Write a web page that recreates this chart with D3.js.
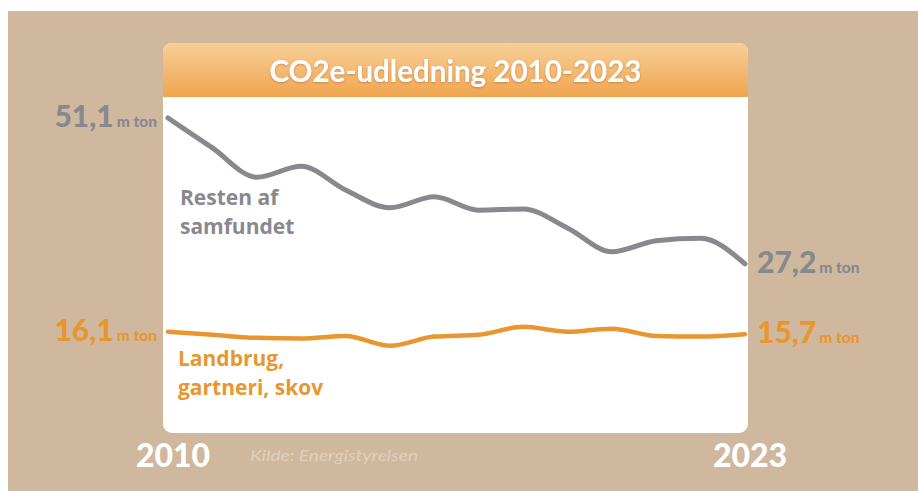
<!DOCTYPE html>
<html>
<head>
<meta charset="utf-8">
<script src="https://cdn.jsdelivr.net/npm/d3@7"></script>
<style>
  html, body { margin: 0; padding: 0; background: #fff; }
  #chart { width: 918px; height: 491px; }
  text { font-family: Lato, "Open Sans", sans-serif; }
</style>
</head>
<body>
<div id="chart"></div>
<script>
// data (million tons CO2e)
var years = [2010, 2011, 2012, 2013, 2014, 2015, 2016, 2017, 2018, 2019, 2020, 2021, 2022, 2023];
var resten = [51.1, 46.2, 41.4, 43.2, 39.3, 36.4, 38.2, 36.0, 36.2, 33.1, 29.2, 31.0, 31.4, 27.2];
var landbrug = [16.1, 15.6, 15.1, 15.0, 15.4, 13.8, 15.3, 15.6, 16.9, 16.1, 16.6, 15.4, 15.3, 15.7];
var startLabels = ["51,1", "16,1"];
var endLabels = ["27,2", "15,7"];
var seriesNames = [["Resten af", "samfundet"], ["Landbrug,", "gartneri, skov"]];
var title = "CO2e-udledning 2010-2023";
var source = "Kilde: Energistyrelsen";

var colors = { grey: "#88888f", orange: "#e8962f", tan: "#cfb89d" };

var W = 918, H = 491;
var svg = d3.select("#chart").append("svg")
  .attr("width", W).attr("height", H);

// background
svg.append("rect").attr("x", 8).attr("y", 11)
  .attr("width", W - 8).attr("height", H - 11)
  .attr("fill", colors.tan);

// card
var card = { x: 163, y: 43, w: 585, h: 390, r: 9, head: 54 };

var defs = svg.append("defs");
var grad = defs.append("linearGradient").attr("id", "head")
  .attr("x1", 0).attr("y1", 0).attr("x2", 0).attr("y2", 1);
grad.append("stop").attr("offset", "0%").attr("stop-color", "#f8cf98");
grad.append("stop").attr("offset", "100%").attr("stop-color", "#f0a54f");

var sh = defs.append("filter").attr("id", "ts")
  .attr("x", "-10%").attr("y", "-30%").attr("width", "120%").attr("height", "160%");
sh.append("feDropShadow").attr("dx", 0).attr("dy", 1).attr("stdDeviation", 1.2)
  .attr("flood-color", "#a0602a").attr("flood-opacity", 0.5);

svg.append("rect").attr("x", card.x).attr("y", card.y)
  .attr("width", card.w).attr("height", card.h).attr("rx", card.r)
  .attr("fill", "#fff");
// header with rounded top only
svg.append("path")
  .attr("d", "M" + card.x + "," + (card.y + card.head) +
    "V" + (card.y + card.r) +
    "Q" + card.x + "," + card.y + " " + (card.x + card.r) + "," + card.y +
    "H" + (card.x + card.w - card.r) +
    "Q" + (card.x + card.w) + "," + card.y + " " + (card.x + card.w) + "," + (card.y + card.r) +
    "V" + (card.y + card.head) + "Z")
  .attr("fill", "url(#head)");

var t = svg.append("text")
  .attr("x", card.x + card.w / 2).attr("y", 82)
  .attr("text-anchor", "middle")
  .attr("fill", "#fff").attr("font-weight", "bold")
  .attr("font-size", 27)
  .attr("filter", "url(#ts)")
  .text(title);
// fit title to reference width
var tw = t.node().getComputedTextLength();
t.attr("font-size", 27 * 372 / tw);

// scales
var x = d3.scalePoint().domain(years).range([168, 745]);
var y = d3.scaleLinear().domain([0, 51.1]).range([430, 118]);

var line = d3.line()
  .x(function(d, i) { return x(years[i]); })
  .y(function(d) { return y(d); })
  .curve(d3.curveMonotoneX);

svg.append("path").datum(resten)
  .attr("d", line).attr("fill", "none")
  .attr("stroke", colors.grey).attr("stroke-width", 5)
  .attr("stroke-linecap", "round");

svg.append("path").datum(landbrug)
  .attr("d", line).attr("fill", "none")
  .attr("stroke", colors.orange).attr("stroke-width", 4.5)
  .attr("stroke-linecap", "round");

// value labels
var series = [resten, landbrug];
var seriesColors = [colors.grey, colors.orange];

var addValue = function(xp, yp, num, col, anchor) {
  var tx = svg.append("text")
    .attr("x", xp).attr("y", yp + 9)
    .attr("text-anchor", anchor)
    .attr("fill", col).attr("font-weight", 900);
  tx.append("tspan").attr("font-size", 30).text(num);
  tx.append("tspan").attr("font-size", 15.5).attr("dx", 3).text("m ton");
};

for (let i = 0; i < series.length; i++) {
  var s = series[i];
  addValue(157, y(s[0]), startLabels[i], seriesColors[i], "end");
  addValue(757, y(s[s.length - 1]), endLabels[i], seriesColors[i], "start");
}

// series names
var namePos = [[180, 205], [178, 366]];
for (let i = 0; i < seriesNames.length; i++) {
  svg.append("g").selectAll("text")
    .data(seriesNames[i])
    .enter().append("text")
    .attr("x", namePos[i][0])
    .attr("y", function(d, j) { return namePos[i][1] + j * 29; })
    .attr("fill", seriesColors[i]).attr("font-weight", "bold")
    .style("font-family", "'Open Sans', sans-serif")
    .attr("font-size", 21)
    .text(function(d) { return d; });
}

// year labels
svg.selectAll(".year")
  .data([years[0], years[years.length - 1]])
  .enter().append("text")
  .attr("class", "year")
  .attr("x", function(d) { return x(d) + 5; })
  .attr("y", 467)
  .attr("text-anchor", "middle")
  .attr("fill", "#fff").attr("font-weight", 900)
  .attr("font-size", 32)
  .text(function(d) { return d; });

svg.append("text")
  .attr("x", 250).attr("y", 461)
  .attr("fill", "#fff").attr("fill-opacity", 0.35)
  .attr("font-style", "italic").attr("font-size", 16)
  .attr("textLength", 168).attr("lengthAdjust", "spacingAndGlyphs")
  .text(source);
</script>
</body>
</html>
